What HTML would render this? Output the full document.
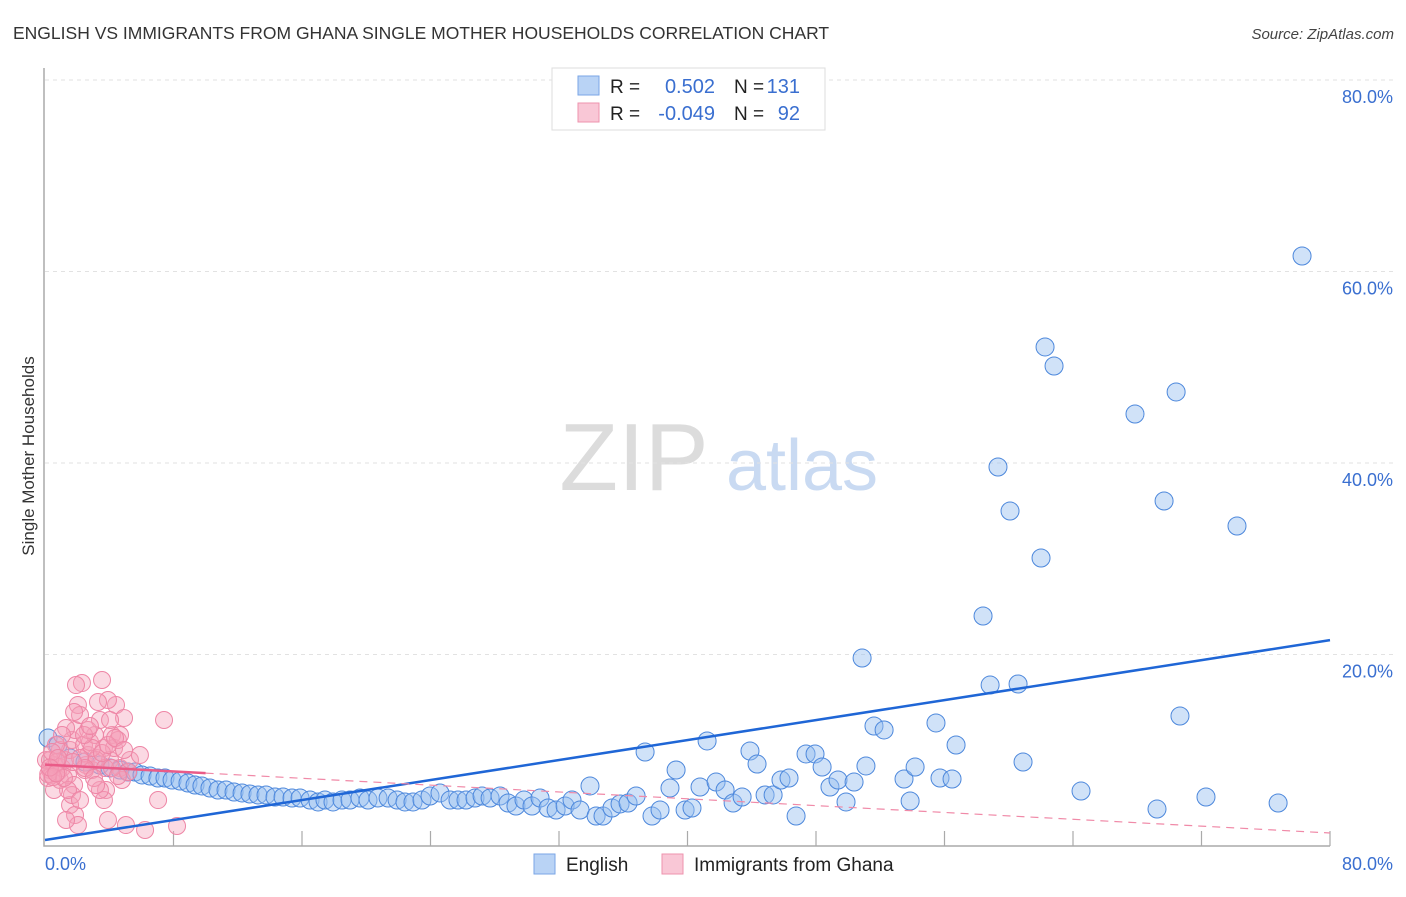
<!DOCTYPE html>
<html><head><meta charset="utf-8"><style>
body{margin:0;background:#fff;font-family:"Liberation Sans",sans-serif;}
svg text{font-family:"Liberation Sans",sans-serif;}
</style></head><body>
<svg id="chart" width="1406" height="892" viewBox="0 0 1406 892" xmlns="http://www.w3.org/2000/svg">
<text x="13" y="39" font-size="17.5" fill="#333">ENGLISH VS IMMIGRANTS FROM GHANA SINGLE MOTHER HOUSEHOLDS CORRELATION CHART</text>
<text x="1394" y="39" font-size="15" fill="#444" text-anchor="end" font-style="italic">Source: ZipAtlas.com</text>
<text transform="translate(34,456) rotate(-90)" font-size="17" fill="#333" text-anchor="middle">Single Mother Households</text>
<g>
<text x="634" y="490" font-size="96" fill="#dcdcdc" text-anchor="middle" font-family="Liberation Serif, serif">ZIP</text>
<text x="802" y="490" font-size="72" fill="#c9daf2" text-anchor="middle">atlas</text>
</g>
<g id="grid"></g>
<g id="axes"></g>
<g id="pts"></g>
<g id="trend"></g>
<g>
<rect x="552" y="68" width="273" height="62" fill="#fff" stroke="#ddd"/>
<rect x="578" y="76" width="21" height="19" fill="#b9d3f5" stroke="#7aa6e6"/>
<rect x="578" y="103" width="21" height="19" fill="#f9c7d6" stroke="#ee93ae"/>
<text x="610" y="93" font-size="19" fill="#222">R =</text>
<text x="715" y="93" font-size="20" fill="#3a6fd0" text-anchor="end">0.502</text>
<text x="734" y="93" font-size="19" fill="#222">N =</text>
<text x="800" y="93" font-size="20" fill="#3a6fd0" text-anchor="end">131</text>
<text x="610" y="120" font-size="19" fill="#222">R =</text>
<text x="715" y="120" font-size="20" fill="#3a6fd0" text-anchor="end">-0.049</text>
<text x="734" y="120" font-size="19" fill="#222">N =</text>
<text x="800" y="120" font-size="20" fill="#3a6fd0" text-anchor="end">92</text>
</g>
<g>
<rect x="534" y="854" width="21" height="20" fill="#b9d3f5" stroke="#7aa6e6"/>
<text x="566" y="871" font-size="19" fill="#222">English</text>
<rect x="662" y="854" width="21" height="20" fill="#f9c7d6" stroke="#ee93ae"/>
<text x="694" y="871" font-size="19" fill="#222">Immigrants from Ghana</text>
</g>
</svg>
<script>
const yTicks=[20,40,60,80];
const xTickCount=10;
const blueX=[0.19,0.81,1.56,2.49,3.42,4.05,4.67,5.17,5.60,6.04,6.54,7.03,7.47,7.91,8.41,8.90,9.34,9.77,10.27,10.77,11.27,11.77,12.27,12.76,13.26,13.76,14.32,14.82,15.38,15.88,16.50,17.00,17.43,17.93,18.49,18.99,19.61,20.11,20.73,21.36,21.92,22.41,22.91,23.47,23.97,24.59,25.22,25.71,26.21,26.77,27.21,27.71,28.33,28.83,29.32,29.82,30.32,30.82,31.32,31.82,32.38,32.81,33.31,33.93,34.31,34.74,35.30,35.80,36.30,36.80,37.36,37.79,38.29,38.91,39.29,39.85,40.28,40.78,41.22,41.78,42.34,42.84,43.40,43.89,44.33,44.83,45.33,45.82,46.32,46.76,47.38,47.94,48.38,48.87,49.37,49.87,50.37,50.87,51.11,51.61,52.24,53.48,54.17,53.86,55.47,55.72,56.47,56.72,58.40,58.84,59.33,60.08,60.58,60.89,62.01,62.26,62.82,64.50,67.86,69.23,69.67,70.42,70.66,72.28,74.21,76.77,78.26];
const blueY=[11.28,10.55,9.19,8.77,8.46,8.15,7.94,7.73,7.73,7.42,7.31,7.10,7.10,6.89,6.79,6.58,6.37,6.27,6.06,5.85,5.85,5.64,5.54,5.43,5.33,5.33,5.12,5.12,5.01,5.01,4.80,4.60,4.80,4.60,4.80,4.80,5.01,4.80,5.01,5.01,4.80,4.60,4.60,4.80,5.22,5.54,4.80,4.80,4.80,5.01,5.22,5.01,5.22,4.49,4.18,4.80,4.18,5.01,3.97,3.76,4.18,4.80,3.76,6.27,3.13,3.13,3.97,4.39,4.49,5.22,9.82,3.13,3.76,6.06,7.94,3.76,3.97,6.16,10.97,6.68,5.85,4.49,5.12,9.92,8.56,5.33,5.33,6.89,7.10,3.13,9.61,9.61,8.25,6.16,6.89,4.60,6.68,19.63,8.36,12.53,12.12,7.00,8.25,4.70,12.85,7.10,7.00,10.55,24.02,16.81,39.58,34.99,16.92,8.77,30.08,52.12,50.13,5.74,45.12,3.86,36.03,47.42,13.58,5.12,33.42,4.49,61.62];
const pinkX=[0.31,0.44,0.62,0.81,0.93,1.06,1.25,1.43,1.56,1.68,1.81,1.87,2.05,2.18,2.30,2.43,2.55,2.68,2.80,2.93,3.11,3.24,3.42,3.55,3.67,3.80,3.92,4.05,4.17,4.30,4.42,4.54,4.67,4.79,4.92,5.04,5.17,5.29,5.91,6.23,7.04,7.41,8.22,1.56,1.87,2.05,1.68,1.43,1.31,1.81,0.93,0.68,1.06,2.68,3.18,3.67,4.05,3.42,2.49,2.93,0.19,0.06,0.31,0.56,0.75,1.18,2.18,2.43,3.74,4.17,4.54,3.92,1.93,2.80,3.30,4.67,1.31,2.18,2.49,3.05,3.55,3.92,4.36,4.92,3.18,1.74,0.44,0.81,0.2,0.5,0.3,0.7];
const pinkY=[7.94,7.42,8.46,7.73,6.89,8.15,8.98,7.42,10.03,11.07,6.37,12.12,14.73,13.68,17.02,10.55,8.46,9.50,10.86,7.94,11.59,9.19,13.16,17.34,10.24,5.85,2.72,8.98,11.59,10.24,14.73,11.07,8.15,6.89,13.37,2.19,7.73,8.98,9.50,1.67,4.80,13.16,2.09,4.28,3.24,2.19,5.33,5.85,12.32,14.00,10.03,10.55,11.59,12.12,8.98,4.80,13.16,5.85,7.94,10.24,7.10,8.98,8.98,5.85,8.77,7.10,9.19,11.59,8.15,8.15,7.31,15.25,16.81,12.53,15.04,11.59,2.72,4.80,8.15,7.10,9.71,10.55,11.28,10.03,6.37,8.77,9.82,9.19,7.5,7.2,8.2,7.6];
const blueTrend=[0.63,21.5];
const pinkTrend=[8.5,1.36];
const pinkSolidEnd=10;

const X0=45,X1=1330,Y0=846,Y80=80;
const sx=v=>X0+(v/80)*(X1-X0);
const sy=v=>Y0-(v/80)*(Y0-Y80);
const NS="http://www.w3.org/2000/svg";
function mk(tag,attrs,parent){const e=document.createElementNS(NS,tag);for(const k in attrs)e.setAttribute(k,attrs[k]);parent.appendChild(e);return e;}
const grid=document.getElementById('grid'),axes=document.getElementById('axes'),pts=document.getElementById('pts'),trend=document.getElementById('trend');
yTicks.forEach(t=>{
  const l=mk('line',{x1:X0,x2:1394,y1:sy(t),y2:sy(t),stroke:'#e2e2e2','stroke-dasharray':'4,4'},grid);
  
  
  const tx=mk('text',{x:1393,y:sy(t)+23,'font-size':'18',fill:'#3a6fd0','text-anchor':'end'},axes);
  tx.textContent=t.toFixed(1)+'%';
  
  
});
const ax=mk('path',{d:`M${X0-1} 68 V${Y0} H${X1}`,stroke:'#aaa',fill:'none','stroke-width':'1.5'},axes);


for(let i=1;i<=xTickCount;i++){
  const x=X0+i*(X1-X0)/xTickCount;
  const tk=mk('line',{x1:x,x2:x,y1:Y0,y2:Y0-15,stroke:'#aaa','stroke-width':'1.2'},axes);
  
  
}
const xl0=mk('text',{x:45,y:870,'font-size':'18',fill:'#3a6fd0'},axes);xl0.textContent='0.0%';


const xl1=mk('text',{x:1393,y:870,'font-size':'18',fill:'#3a6fd0','text-anchor':'end'},axes);xl1.textContent='80.0%';


blueX.forEach((v,i)=>{
  const c=mk('circle',{cx:sx(v),cy:sy(blueY[i]),r:9,fill:'rgba(150,190,240,0.45)',stroke:'#4d88dc','stroke-width':'1'},pts);
  
  
});
pinkX.forEach((v,i)=>{
  const c=mk('circle',{cx:sx(v),cy:sy(pinkY[i]),r:8.5,fill:'rgba(245,160,185,0.4)',stroke:'#ee86a6','stroke-width':'1'},pts);
  
  
});
const bl=mk('line',{x1:sx(0),y1:sy(blueTrend[0]),x2:sx(80),y2:sy(blueTrend[1]),stroke:'#1f66d6','stroke-width':'2.5'},trend);


const py=x=>pinkTrend[0]+(pinkTrend[1]-pinkTrend[0])*x/80;
const ps=mk('line',{x1:sx(0),y1:sy(py(0)),x2:sx(pinkSolidEnd),y2:sy(py(pinkSolidEnd)),stroke:'#ea5b88','stroke-width':'2.5'},trend);


const pd=mk('line',{x1:sx(pinkSolidEnd),y1:sy(py(pinkSolidEnd)),x2:sx(80),y2:sy(py(80)),stroke:'#f08aa8','stroke-width':'1.2','stroke-dasharray':'8,6'},trend);


</script>
</body></html>
